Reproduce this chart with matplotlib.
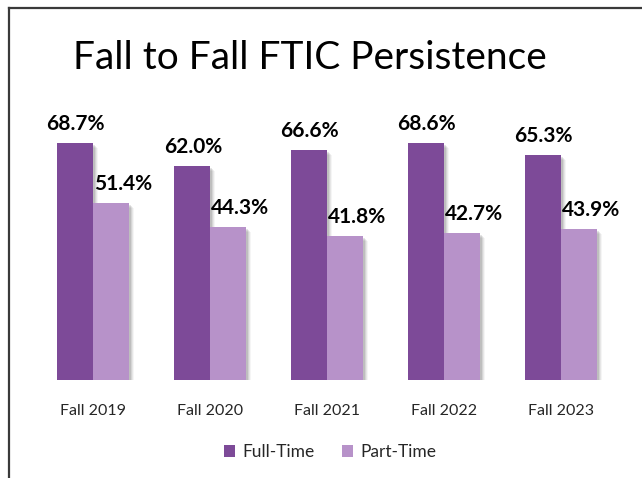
import matplotlib
matplotlib.use("Agg")
import matplotlib.pyplot as plt
import matplotlib.transforms as mtransforms
from matplotlib.lines import Line2D
from matplotlib.patches import Patch
import numpy as np

categories = ["Fall 2019", "Fall 2020", "Fall 2021", "Fall 2022", "Fall 2023"]
full_time = [68.7, 62.0, 66.6, 68.6, 65.3]
part_time = [51.4, 44.3, 41.8, 42.7, 43.9]
series_names = ["Full-Time", "Part-Time"]
title = "Fall to Fall FTIC Persistence"

c_full = "#7D4A98"
c_part = "#B792C9"

plt.rcParams['font.family'] = ['Lato', 'DejaVu Sans']

fig = plt.figure(figsize=(6.42, 4.78), dpi=100)
ax = fig.add_axes([34.5/642, (478-380)/478, 585/642, (380-104)/478])

x = np.arange(len(categories))
w = 0.31

# soft shadows
for i, (dx, dy, a) in enumerate([(2, -2, 0.10), (3, -3, 0.08), (4, -4, 0.06), (5, -5, 0.04)]):
    off = mtransforms.offset_copy(ax.transData, fig=fig, x=dx, y=dy, units='dots')
    ax.bar(x - w/2, full_time, w, color='black', alpha=a, transform=off, zorder=1, linewidth=0)
    ax.bar(x + w/2, part_time, w, color='black', alpha=a, transform=off, zorder=1, linewidth=0)

ax.bar(x - w/2, full_time, w, color=c_full, zorder=3, linewidth=0)
ax.bar(x + w/2, part_time, w, color=c_part, zorder=3, linewidth=0)

for xi, v in zip(x, full_time):
    ax.annotate(f"{v:.1f}%", (xi - w/2, v), xytext=(1, 9), textcoords='offset pixels',
                ha='center', va='bottom', fontsize=15, fontweight='bold', color='black')
for xi, v in zip(x, part_time):
    ax.annotate(f"{v:.1f}%", (xi + w/2, v), xytext=(12, 9), textcoords='offset pixels',
                ha='center', va='bottom', fontsize=15, fontweight='bold', color='black')

ax.set_xlim(-0.5, len(categories) - 0.5)
ax.set_ylim(0, 80)
ax.set_xticks(x)
ax.set_xticklabels(categories, fontsize=11.5, color='#262626')
ax.tick_params(axis='x', length=0, pad=17)
ax.set_yticks([])
for s in ax.spines.values():
    s.set_visible(False)

fig.text(310/642, (478-58)/478, title, ha='center', va='center', fontsize=28, color='black')

handles = [Patch(facecolor=c_full, label=series_names[0]), Patch(facecolor=c_part, label=series_names[1])]
fig.legend(handles=handles, loc='center', bbox_to_anchor=(330/642, (478-452)/478), ncol=2,
           frameon=False, fontsize=12.5, handlelength=0.65, handleheight=0.65, handletextpad=0.4,
           columnspacing=1.6, labelcolor='#262626')

fig.add_artist(Line2D([9/642, 9/642], [0, (478-8)/478], transform=fig.transFigure, color='#3a3a3a', lw=1.6))
fig.add_artist(Line2D([9/642, 1], [(478-8)/478, (478-8)/478], transform=fig.transFigure, color='#3a3a3a', lw=1.6))

fig.savefig("out.png", dpi=100, facecolor='white')
